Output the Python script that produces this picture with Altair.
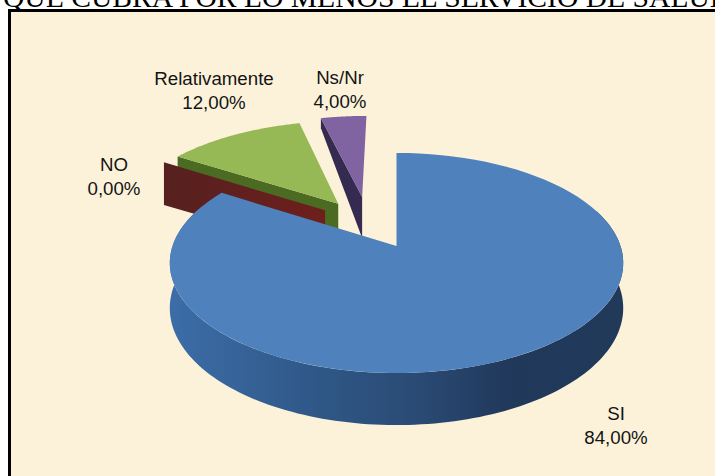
import math
import altair as alt
import pandas as pd

# Survey shares, in drawing order clockwise from twelve o'clock
categories = ["SI", "NO", "Relativamente", "Ns/Nr"]
shares = [84.0, 0.0, 12.0, 4.0]
title_text = "QUE CUBRA POR LO MENOS EL SERVICIO DE SALUD"

# Disk projection: centre, radii, perspective strength, extrusion depth
CX, CY, RX, RY, PERSP, DEPTH = 396.5, 246.0, 224.0, 107.4, 0.1545, 44.0

# Exploded slices are pushed out in disk units (right, away from viewer)
explode = {"SI": (0.0, 0.0), "NO": (-0.336, 0.35), "Relativamente": (-0.277, 0.42), "Ns/Nr": (-0.165, 0.49)}
top_color = {"SI": "#4f81bd", "Relativamente": "#97b955", "Ns/Nr": "#8064a2"}
wall_color = {"NO": "#5c211f", "Relativamente": "#4c6b22", "Ns/Nr": "#352a50"}
# Wall height at the rim, as a fraction of the full depth
wall_rim = {"NO": 1.1, "Relativamente": 1.0, "Ns/Nr": 0.28}

label_anchor = {"SI": (616, 420), "NO": (114, 171), "Relativamente": (214, 85), "Ns/Nr": (340, 84)}


def project(u, v, depth=0.0):
    s = 1.0 / (1.0 + PERSP * v)
    return CX + RX * u * s, CY - RY * v * s + depth * s


def rim(theta_deg, shift=(0.0, 0.0)):
    t = math.radians(theta_deg)
    return math.sin(t) + shift[0], math.cos(t) + shift[1]


def sweep(a, b, n=90):
    return [a + (b - a) * i / n for i in range(n + 1)]


def frame(points):
    return pd.DataFrame([{"x": x, "y": y, "i": i} for i, (x, y) in enumerate(points)])


xs = alt.X("x:Q", scale=alt.Scale(domain=[0, 715], range=[0, 715]), axis=None)
ys = alt.Y("y:Q", scale=alt.Scale(domain=[0, 476], range=[0, 476]), axis=None)


def polygon(points, fill):
    return alt.Chart(frame(points)).mark_line(
        fill=fill, stroke="transparent", strokeWidth=0, interpolate="linear"
    ).encode(x=xs, y=ys, order=alt.Order("i:Q"))


# Cumulative angles for each slice
angles = {}
start = 0.0
for name, share in zip(categories, shares):
    angles[name] = (start, start + share * 3.6)
    start += share * 3.6

layers = []

# Panel with its heavy border and the heading above it
panel = pd.DataFrame([{"x": 9.5, "x2": 800, "y": 10.5, "y2": 600}])
layers.append(
    alt.Chart(panel).mark_rect(fill="#fcf2da", stroke="#000000", strokeWidth=3).encode(x=xs, x2="x2:Q", y=ys, y2="y2:Q")
)
layers.append(
    alt.Chart(pd.DataFrame([{"x": 3, "y": 7, "t": title_text}]))
    .mark_text(font="Liberation Serif", fontSize=29.6, align="left", baseline="alphabetic", color="#000000")
    .encode(x=xs, y=ys, text="t:N")
)


def cut_wall(name, theta):
    shift = explode[name]
    u0, v0 = shift
    u1, v1 = rim(theta, shift)
    return [
        project(u0, v0),
        project(u1, v1),
        project(u1, v1, DEPTH * wall_rim[name]),
        project(u0, v0, DEPTH),
    ]


def top_face(name):
    shift = explode[name]
    a, b = angles[name]
    return [project(*shift)] + [project(*rim(t, shift)) for t in sweep(a, b)]


# Back slices first: purple, then green, then the zero-width red wall
layers.append(polygon(cut_wall("Ns/Nr", angles["Ns/Nr"][0]), wall_color["Ns/Nr"]))
layers.append(polygon(top_face("Ns/Nr"), top_color["Ns/Nr"]))
layers.append(polygon(cut_wall("Relativamente", angles["Relativamente"][0]), wall_color["Relativamente"]))
layers.append(polygon(cut_wall("NO", angles["NO"][0]), alt.LinearGradient(
    gradient="linear", x1=0, x2=1, y1=0, y2=0,
    stops=[alt.GradientStop(offset=0, color="#55211f"), alt.GradientStop(offset=1, color="#6e1f1c")],
)))
layers.append(polygon(top_face("Relativamente"), top_color["Relativamente"]))

# Big slice: shaded rim, then its top
a, b = angles["SI"]
upper = [project(*rim(t)) for t in sweep(70, b, 160)]
lower = [project(*rim(t), DEPTH) for t in sweep(b, 70, 160)]
side_fill = alt.LinearGradient(
    gradient="linear", x1=0, x2=1, y1=0, y2=0,
    stops=[
        alt.GradientStop(offset=0, color="#3c6da8"),
        alt.GradientStop(offset=0.3, color="#305989"),
        alt.GradientStop(offset=0.55, color="#2a4a74"),
        alt.GradientStop(offset=0.75, color="#20385a"),
        alt.GradientStop(offset=1, color="#213a5a"),
    ],
)
layers.append(polygon(upper + lower, side_fill))
layers.append(polygon(top_face("SI"), top_color["SI"]))

# Two-line labels: category name over its share
rows = []
for name, share in zip(categories, shares):
    x, y = label_anchor[name]
    rows.append({"x": x, "y": y, "t": name})
    rows.append({"x": x, "y": y + 24, "t": f"{share:.2f}".replace(".", ",") + "%"})
layers.append(
    alt.Chart(pd.DataFrame(rows))
    .mark_text(font="Liberation Sans", fontSize=18.7, align="center", baseline="alphabetic", color="#141414")
    .encode(x=xs, y=ys, text="t:N")
)

chart = (
    alt.layer(*layers)
    .properties(width=715, height=476, padding=0, autosize=alt.AutoSizeParams(type="none"), background="#ffffff")
    .configure_view(stroke=None)
)

chart.save("out.html", embed_options={"renderer": "svg", "actions": False})
